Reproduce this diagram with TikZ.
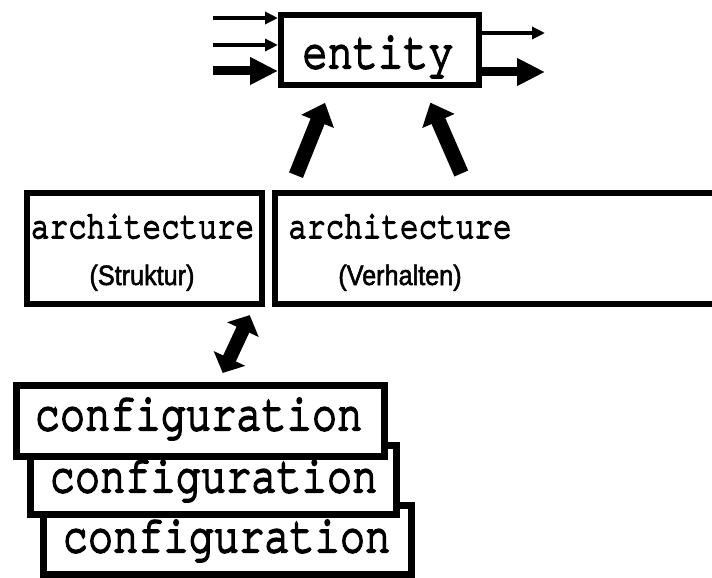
\documentclass[tikz,border=0pt]{standalone}
\usepackage{fontspec}
\usepackage{graphicx}
\usetikzlibrary{arrows.meta}
\newfontfamily\codefont[FakeBold=4, Ligatures={NoCommon}]{TeX Gyre Cursor}
\newfontfamily\labelfont[FakeBold=2]{Liberation Sans}

% monospaced VHDL keyword, slightly stretched vertically
\newcommand{\kw}[2]{\scalebox{1}[1.25]{\fontsize{#1}{#1}\codefont #2}}
\newcommand{\note}[1]{\scalebox{0.9}[1]{\fontsize{28}{28}\labelfont #1}}

\tikzset{
  unit/.style={draw, line width=6pt, fill=white, inner sep=0pt},
  cfgunit/.style={unit, line width=7pt},
  txt/.style={anchor=base, inner sep=0pt, outer sep=0pt},
  sigarrow/.style={line width=4pt, -{Triangle[length=13pt,width=12pt]}},
  busarrow/.style={line width=9pt, -{Triangle[length=28pt,width=26pt]}},
  bigarrow/.style={line width=15pt, -{Triangle[length=20pt,width=34pt]}},
  duplex/.style={line width=14pt,
    {Triangle[length=16pt,width=34pt]}-{Triangle[length=16pt,width=34pt]}},
}

\begin{document}
\begin{tikzpicture}[x=1pt, y=-1pt]
  \useasboundingbox (0,0) rectangle (712,578);
  \fill[white] (0,0) rectangle (712,578);
  \clip (0,0) rectangle (712,578);

  % entity with its ports
  \node[unit, minimum width=198pt, minimum height=70pt] (entity) at (380,50) {};
  \node[txt] (entityT) at (378,68) {\kw{42}{entity}};

  \coordinate (in1) at (213,18);
  \coordinate (in2) at (213,45);
  \coordinate (in3) at (213,71);
  \coordinate (out1) at (545,33);
  \coordinate (out2) at (545,72);
  \draw[sigarrow] (in1) -- (in1 -| entity.west);
  \draw[sigarrow] (in2) -- (in2 -| entity.west);
  \draw[busarrow] (in3) -- (in3 -| entity.west);
  \draw[sigarrow] (out1 -| entity.east) -- (out1);
  \draw[busarrow] (out2 -| entity.east) -- (out2);

  % architectures
  \node[unit, minimum width=235pt, minimum height=111pt] (archL) at (144.5,248.5) {};
  \node[txt] (archLT) at (142.5,238) {\kw{31}{architecture}};
  \node[txt] (archLN) at (142,285) {\note{(Struktur)}};

  \node[unit, minimum width=455pt, minimum height=111pt] (archR) at (502.5,248.5) {};
  \node[txt] (archRT) at (400,238) {\kw{31}{architecture}};
  \node[txt] (archRN) at (400,285) {\note{(Verhalten)}};

  \draw[bigarrow, shorten <=16pt, shorten >=16pt]
    ([xshift=145.5pt]archL.north) -- ([xshift=-49pt]entity.south);
  \draw[bigarrow, shorten <=18pt, shorten >=16pt]
    ([xshift=-34pt]archR.north) -- ([xshift=44pt]entity.south);

  % stacked configurations, back to front
  \node[cfgunit, minimum width=368pt, minimum height=69pt] (cfg3) at (227.5,540) {};
  \node[txt] (cfg3T) at (226.5,552) {\kw{42}{configuration}};
  \node[cfgunit, minimum width=366pt, minimum height=69pt] (cfg2) at (213.5,480) {};
  \node[txt] (cfg2T) at (213.5,492) {\kw{42}{configuration}};
  \node[cfgunit, minimum width=368pt, minimum height=71pt] (cfg1) at (200.5,421) {};
  \node[txt] (cfg1T) at (198.5,430) {\kw{42}{configuration}};

  \draw[duplex, shorten <=9pt, shorten >=10pt]
    ([xshift=109pt]archL.south) -- ([xshift=18pt]cfg1.north);
\end{tikzpicture}
\end{document}
